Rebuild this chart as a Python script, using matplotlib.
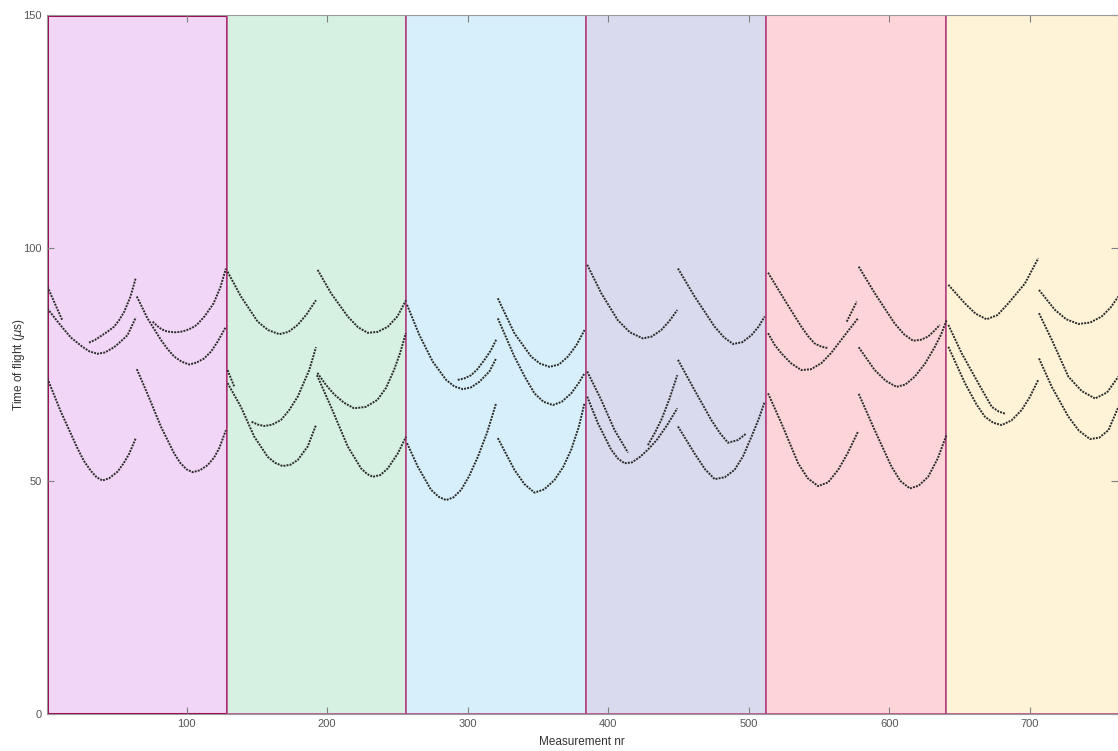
import matplotlib
matplotlib.use('Agg')
import matplotlib.pyplot as plt

# ---------------- data ----------------
band_edges = [0.5, 128.5, 256.5, 384.5, 512.5, 640.5, 768.5]
band_colors = ['#f2d6f7', '#d6f1e1', '#d7effa', '#d9daee', '#fdd5d9', '#fef3d7']

x_ticks = [100, 200, 300, 400, 500, 600, 700]
y_ticks = [0, 50, 100, 150]

# each segment: (measurement numbers, time of flight in microseconds)
band1_segments = [
    ([1, 11.7], [91.7, 84.4]),
    ([30.6, 35, 39, 44, 48.4, 52, 55.6, 60, 63.9], [79.7, 80.3, 81.1, 82.1, 83.1, 84.5, 86.3, 89.5, 93.6]),
    ([1, 9.3, 17.6, 25.9, 31, 36.6, 42, 48.4, 53, 58, 63.9], [87.0, 83.8, 80.8, 78.8, 77.8, 77.3, 77.6, 78.7, 79.9, 81.3, 85.1]),
    ([1, 10.5, 22.4, 27, 31.8, 36, 40.2, 45, 50.9, 55, 59.1, 63.9], [72.0, 64.9, 57.0, 54.3, 52.2, 50.8, 50.1, 50.6, 52.0, 53.7, 55.8, 59.2]),
    ([75.9, 79, 82, 86, 91.2, 95.5, 99.5, 103.5, 107.3, 113, 119.2, 124, 128], [84.2, 83.3, 82.6, 82.1, 81.9, 82.0, 82.3, 82.8, 83.5, 85.4, 88.1, 91.5, 95.6]),
    ([64.6, 72.2, 81.7, 86.5, 91.2, 96.5, 101.9, 107, 112.5, 117.5, 122.1, 128], [89.6, 84.9, 80.3, 78.3, 76.7, 75.6, 75.0, 75.4, 76.3, 77.8, 79.9, 83.1]),
    ([64.6, 72.2, 81.7, 91.2, 95.5, 100, 104.3, 109.5, 115, 119.5, 123.2, 128], [74.0, 68.7, 61.7, 55.9, 53.9, 52.5, 51.9, 52.3, 53.4, 55.0, 57.0, 60.9]),
]
band2_segments = [
    ([129.2, 138.7, 150.6, 158, 166, 172.5, 179.1, 185.5, 192.1], [94.9, 89.6, 84.2, 82.4, 81.5, 82.0, 83.5, 85.8, 88.8]),
    ([129.2, 134], [73.8, 70.2]),
    ([146.3, 150.8, 155.3, 161, 167.2, 173, 179.1, 187.3, 192.1], [62.7, 62.1, 61.8, 62.1, 63.1, 65.2, 68.1, 73.8, 78.7]),
    ([129.2, 138.7, 148.2, 157.7, 163, 168.4, 174, 179.1, 186.2, 192.1], [71.0, 65.9, 59.5, 55.2, 53.9, 53.2, 53.5, 54.5, 57.4, 62.0]),
    ([193.3, 202.8, 214.7, 222, 228.9, 236, 243.2, 250, 256.2], [95.3, 90.3, 85.3, 83.0, 81.8, 82.0, 83.1, 85.3, 88.8]),
    ([193.1, 199, 205, 212, 219.2, 227.5, 235.8, 242, 247.6, 252, 256], [73.2, 70.7, 68.6, 66.8, 65.6, 65.9, 67.4, 70.0, 73.8, 77.5, 81.7]),
    ([192.8, 202.8, 214.7, 224.2, 228.5, 232.5, 238, 243.2, 250.3, 256.2], [72.7, 65.9, 57.4, 52.7, 51.5, 50.9, 51.3, 52.7, 55.9, 59.5]),
]
band3_segments = [
    ([256.9, 265.7, 275.2, 284.7, 290.5, 296.6, 302.5, 308.4, 315.5, 320.3], [87.8, 81.3, 75.6, 71.7, 70.3, 69.7, 70.1, 71.3, 73.5, 76.3]),
    ([293, 297.5, 302.5, 307, 312, 316.5, 320.3], [71.7, 72.0, 72.7, 74.0, 76.0, 78.0, 80.3]),
    ([256.9, 264.5, 274, 279.5, 284.7, 290, 295.4, 301, 307.3, 314, 320.3], [58.1, 53.1, 48.1, 46.6, 45.9, 46.5, 48.1, 51.0, 55.2, 60.5, 66.7]),
    ([321.5, 333.3, 345.2, 351.5, 358.3, 365, 371.4, 377.5, 383.2], [89.2, 81.7, 76.7, 75.2, 74.5, 75.0, 76.7, 79.2, 82.4]),
    ([321.5, 333.3, 341, 347.6, 354, 360.7, 367, 373.7, 379, 383.2], [84.9, 76.7, 72.2, 68.8, 67.0, 66.3, 67.0, 68.8, 71.0, 73.1]),
    ([321.5, 333.3, 340.5, 347.6, 354.5, 361.8, 368, 373.7, 379, 383.2], [59.2, 52.4, 49.3, 47.5, 48.2, 50.2, 53.0, 56.7, 61.5, 66.7]),
]
band4_segments = [
    ([385.1, 395.1, 406.9, 415.5, 424.7, 431, 437.8, 443.5, 449.2], [96.4, 90.3, 84.5, 81.9, 80.6, 81.0, 82.4, 84.3, 86.7]),
    ([385.1, 395.1, 404.6, 414.1], [73.5, 67.4, 60.9, 56.1]),
    ([428.3, 433, 437.8, 443.5, 449.2], [57.7, 60.2, 63.1, 67.5, 72.7]),
    ([385.1, 392.7, 402.2, 407, 411.7, 417, 422.8, 428.5, 434.6, 442, 449.2], [68.1, 62.4, 56.7, 54.8, 53.8, 54.0, 55.2, 56.8, 58.8, 62.0, 65.6]),
    ([449.7, 461.5, 475.8, 482.5, 488.9, 495.5, 502, 507, 511.4], [95.6, 89.6, 83.1, 80.8, 79.4, 79.8, 81.3, 83.1, 85.3]),
    ([449.7, 461.5, 473.4, 479.5, 485.3, 492.4, 498.3], [76.0, 69.5, 63.1, 60.3, 58.2, 58.8, 60.2]),
    ([449.7, 461.5, 469, 475.8, 483, 490, 496, 502, 507, 511.4], [61.7, 55.9, 52.5, 50.4, 50.8, 52.4, 55.3, 59.5, 63.2, 67.0]),
]
band5_segments = [
    ([513.8, 525.7, 537.5, 542.5, 547, 552, 556.6], [94.7, 88.8, 83.1, 81.0, 79.5, 78.8, 78.5]),
    ([569.8, 576.9], [84.2, 88.5]),
    ([513.8, 518.5, 523.3, 530, 537.5, 544.5, 551.8, 558.5, 565.9, 571.5, 577.8], [81.7, 79.2, 77.4, 75.3, 73.8, 74.0, 75.3, 77.4, 80.3, 82.5, 84.9]),
    ([513.8, 523.3, 535.2, 542, 549.4, 556.5, 563.7, 570.5, 577.8], [68.8, 62.4, 53.8, 50.6, 48.9, 49.7, 52.4, 56.0, 60.6]),
    ([578.3, 589.7, 603.9, 610.5, 617, 622.5, 627.7, 632, 636], [96.0, 90.3, 83.8, 81.5, 80.1, 80.3, 81.0, 82.2, 83.5]),
    ([578.3, 589.7, 597.5, 605.2, 611.5, 618.2, 625.5, 632.5, 637, 640.8], [78.7, 73.8, 71.5, 70.2, 70.7, 72.4, 75.2, 78.8, 81.5, 84.5]),
    ([578.3, 589.7, 601.6, 608, 614.7, 621, 627.7, 634.5, 640.8], [68.7, 60.9, 53.1, 50.0, 48.4, 49.0, 50.9, 54.8, 59.9]),
]
band6_segments = [
    ([642.1, 653.9, 661.5, 669.3, 677, 684.7, 696.6, 706.1], [92.1, 88.1, 85.9, 84.7, 85.6, 88.1, 92.4, 97.8]),
    ([642.1, 651.6, 663.4, 673, 678, 683], [83.5, 77.4, 71.0, 65.9, 64.9, 64.4]),
    ([642.1, 653.9, 662, 668.1, 674, 680, 687, 694.2, 700, 706.1], [78.8, 71.0, 66.5, 63.8, 62.5, 62.0, 63.0, 65.2, 68.0, 71.7]),
    ([706.6, 718, 726, 734.6, 743, 751.2, 757.5, 763.1], [91.0, 86.7, 84.7, 83.7, 84.0, 85.3, 87.2, 89.6]),
    ([706.6, 715.7, 727.5, 737, 746.5, 755, 763.1], [86.0, 80.3, 72.4, 69.3, 67.7, 69.0, 72.4]),
    ([706.6, 715.7, 727.5, 735, 742.9, 749.5, 756, 763.1], [76.3, 70.2, 63.8, 60.8, 59.0, 59.3, 60.9, 65.9]),
]

# ---------------- drawing ----------------
plt.rcParams['font.family'] = ['Liberation Sans Narrow', 'Liberation Sans', 'DejaVu Sans']

fig = plt.figure(figsize=(11.18, 7.51), dpi=100)
ax = fig.add_axes([0.0418, 0.0493, 0.9578, 0.9307])

for i, c in enumerate(band_colors):
    lw = 2.2 if i == 0 else 1.1
    ec = '#9c0a50' if i == 0 else '#b23c7c'
    ax.axvspan(band_edges[i], band_edges[i + 1], ymin=0, ymax=1,
               facecolor=c, edgecolor=ec, lw=lw, zorder=1)

for segs in [band1_segments, band2_segments, band3_segments,
             band4_segments, band5_segments, band6_segments]:
    for xs, ys in segs:
        ax.plot(xs, ys, linestyle=(0, (1.0, 0.6)), lw=1.4, color='#2a2a2a',
                dash_capstyle='butt', solid_joinstyle='round', zorder=3)

ax.set_xlim(0.5, 762.5)
ax.set_ylim(0, 150)
ax.set_xticks(x_ticks)
ax.set_yticks(y_ticks)
ax.tick_params(direction='in', length=5, width=0.8, color='#808080',
               labelsize=8, labelcolor='#555555', top=True, right=True)
for s in ax.spines.values():
    s.set_color('#9a9a9a')
    s.set_linewidth(0.8)
    s.set_zorder(4)

ax.set_xlabel('Measurement nr', fontsize=8.5, color='#333333')
ax.set_ylabel('Time of flight ($\\mu$s)', fontsize=8.5, color='#333333')
ax.yaxis.set_label_coords(-0.018, 0.5)
ax.xaxis.set_label_coords(0.5, -0.031)

fig.savefig('out.png', dpi=100)
